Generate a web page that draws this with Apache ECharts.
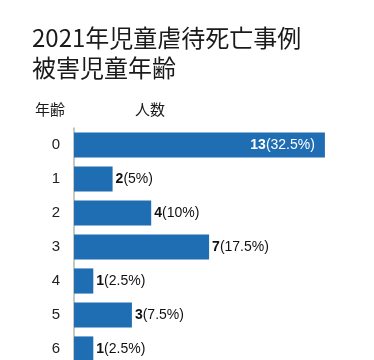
<!DOCTYPE html>
<html>
<head>
<meta charset="utf-8">
<script src="https://cdn.jsdelivr.net/npm/echarts@6/dist/echarts.min.js"></script>
<style>
html,body{margin:0;padding:0;background:#fff;}
#c{width:374px;height:360px;}
</style>
</head>
<body>
<div id="c"></div>
<script>
const titleLines = ['2021年児童虐待死亡事例', '被害児童年齢'];
const categoryHeader = '年齢';
const valueHeader = '人数';
const categories = ['0', '1', '2', '3', '4', '5', '6'];
const counts = [13, 2, 4, 7, 1, 3, 1];
const percents = ['32.5%', '5%', '10%', '17.5%', '2.5%', '7.5%', '2.5%'];
const insideIndex = [0];

const chart = echarts.init(document.getElementById('c'), null, {renderer: 'canvas'});

const labelFont = 'Liberation Sans, Arial, sans-serif';
function richFor(color) {
  return {
    b: {fontFamily: labelFont, fontSize: 14, fontWeight: 'bold', color: color},
    n: {fontFamily: labelFont, fontSize: 14, color: color}
  };
}

const seriesData = counts.map((v, i) => {
  const inside = insideIndex.indexOf(i) >= 0;
  return {
    value: v,
    label: {
      position: inside ? 'insideRight' : 'right',
      distance: inside ? 10 : 3,
      rich: richFor(inside ? '#ffffff' : '#111111')
    }
  };
});

chart.setOption({
  backgroundColor: '#ffffff',
  animation: false,
  title: [
    {
      text: titleLines.join('\n'),
      left: 32, top: 23, padding: 0,
      textStyle: {fontFamily: 'Noto Sans CJK JP', fontSize: 24, fontWeight: 'normal', color: '#1a1a1a', lineHeight: 30}
    },
    {
      text: categoryHeader,
      left: 35, top: 99, padding: 0,
      textStyle: {fontFamily: 'Noto Sans CJK JP', fontSize: 15, fontWeight: 'normal', color: '#1a1a1a', lineHeight: 20}
    },
    {
      text: valueHeader,
      left: 135, top: 99, padding: 0,
      textStyle: {fontFamily: 'Noto Sans CJK JP', fontSize: 15, fontWeight: 'normal', color: '#1a1a1a', lineHeight: 20}
    }
  ],
  grid: {left: 74, top: 128, right: 10.5, bottom: -6, outerBoundsMode: 'none'},
  xAxis: {
    type: 'value', min: 0, max: 15, show: false
  },
  yAxis: {
    type: 'category',
    data: categories,
    inverse: true,
    axisLine: {show: true, lineStyle: {color: '#b8b4ae', width: 1.5}},
    axisTick: {show: false},
    axisLabel: {margin: 14, fontFamily: labelFont, fontSize: 15, color: '#222222'},
    splitLine: {show: false}
  },
  series: [{
    type: 'bar',
    data: seriesData,
    barCategoryGap: '26%',
    itemStyle: {color: '#1f6db3'},
    label: {
      show: true,
      formatter: function (p) {
        return '{b|' + counts[p.dataIndex] + '}{n|(' + percents[p.dataIndex] + ')}';
      }
    }
  }]
});
</script>
</body>
</html>
